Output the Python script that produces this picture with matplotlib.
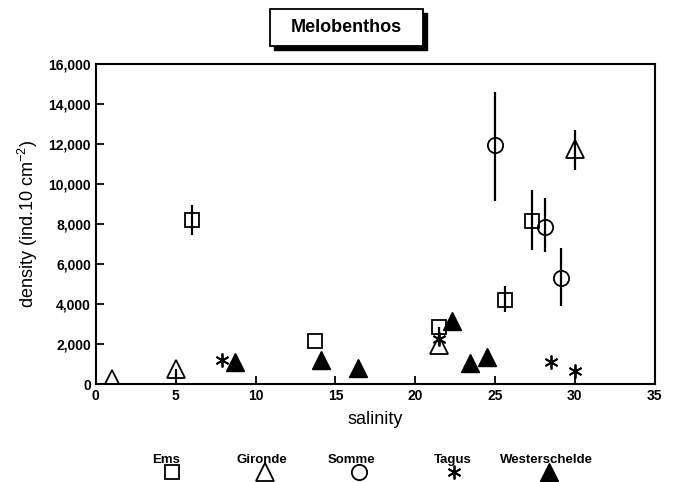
import matplotlib
matplotlib.use("Agg")
import matplotlib.pyplot as plt
from matplotlib.lines import Line2D
from matplotlib.patches import Rectangle
from matplotlib.ticker import FuncFormatter

plt.rcParams['font.family'] = ['Liberation Sans', 'DejaVu Sans']

# Meiobenthos density against salinity for five estuaries
ems_sal = [6.0, 13.7, 21.5, 25.6, 27.3]
ems_den = [8200, 2170, 2850, 4220, 8150]
ems_lo = [7470, 2170, 2300, 3600, 6700]
ems_hi = [8960, 2170, 2850, 4900, 9700]

gironde_sal = [1.0, 5.0, 21.5, 30.0]
gironde_den = [250, 770, 1970, 11750]
gironde_lo = [250, 350, 1970, 10700]
gironde_hi = [250, 770, 2300, 12700]

somme_sal = [25.0, 28.1, 29.1]
somme_den = [11970, 7880, 5300]
somme_lo = [9170, 6600, 3900]
somme_hi = [14630, 9300, 6800]

tagus_sal = [7.9, 21.5, 28.5, 30.0]
tagus_den = [1220, 2250, 1100, 640]

wester_sal = [8.7, 14.1, 16.4, 22.3, 23.4, 24.5]
wester_den = [1100, 1220, 800, 3150, 1050, 1380]
wester_lo = [1100, 1220, 800, 2700, 1050, 1380]
wester_hi = [1100, 1220, 800, 3500, 1050, 1380]

legend_names = ["Ems", "Gironde", "Somme", "Tagus", "Westerschelde"]

fig = plt.figure(figsize=(6.75, 4.82), dpi=100)
ax = fig.add_axes([0.142, 0.203, 0.828, 0.664])


def bars(x, lo, hi):
    for xi, l, h in zip(x, lo, hi):
        if h > l:
            ax.vlines(xi, l, h, color='black', lw=1.6, zorder=2)


styles = {
    "Ems": dict(marker='s', ms=10, mfc='none', mec='black', mew=1.3),
    "Gironde": dict(marker='^', ms=13, mfc='none', mec='black', mew=1.3),
    "Somme": dict(marker='o', ms=11, mfc='none', mec='black', mew=1.3),
    "Tagus": dict(marker=(6, 2, 0), ms=10, mec='black', mew=1.3),
    "Westerschelde": dict(marker='^', ms=13, mfc='black', mec='black'),
}

bars(ems_sal, ems_lo, ems_hi)
bars(gironde_sal, gironde_lo, gironde_hi)
bars(somme_sal, somme_lo, somme_hi)
bars(wester_sal, wester_lo, wester_hi)

ax.plot(ems_sal, ems_den, ls='none', zorder=3, **styles["Ems"])
ax.plot(gironde_sal, gironde_den, ls='none', zorder=3, **styles["Gironde"])
ax.plot(somme_sal, somme_den, ls='none', zorder=3, **styles["Somme"])
ax.plot(tagus_sal, tagus_den, ls='none', zorder=3, **styles["Tagus"])
ax.plot(wester_sal, wester_den, ls='none', zorder=3, **styles["Westerschelde"])

ax.set_xlim(0, 35)
ax.set_ylim(0, 16000)
ax.set_xticks(range(0, 36, 5))
ax.set_yticks(range(0, 16001, 2000))
ax.yaxis.set_major_formatter(FuncFormatter(lambda v, p: f"{int(v):,}"))
ax.tick_params(direction='in', length=6, width=1.3, labelsize=10, top=False, right=False)
for lab in ax.get_xticklabels() + ax.get_yticklabels():
    lab.set_fontweight('bold')
for sp in ax.spines.values():
    sp.set_linewidth(1.5)

ax.set_xlabel("salinity", fontsize=13, labelpad=6)
ax.set_ylabel("density (ind.10 cm$^{\\mathregular{-2}}$)", fontsize=13, labelpad=6)

# Title in a box with a drop shadow
fig.add_artist(Rectangle((0.406, 0.897), 0.227, 0.077, transform=fig.transFigure,
                         facecolor='black', edgecolor='black', zorder=1))
fig.add_artist(Rectangle((0.400, 0.905), 0.227, 0.077, transform=fig.transFigure,
                         facecolor='white', edgecolor='black', lw=1.3, zorder=2))
fig.text(0.5135, 0.942, "Melobenthos", ha='center', va='center', fontsize=13,
         fontweight='bold', zorder=3)

# Legend: name above its symbol
label_x = [0.246, 0.388, 0.520, 0.670, 0.810]
marker_x = [0.255, 0.393, 0.532, 0.673, 0.813]
for name, lx, mx in zip(legend_names, label_x, marker_x):
    fig.text(lx, 0.039, name, ha='center', va='baseline', fontsize=9.5, fontweight='bold')
    fig.add_artist(Line2D([mx], [0.021], transform=fig.transFigure, ls='none', **styles[name]))

fig.savefig("out.png", dpi=100)
